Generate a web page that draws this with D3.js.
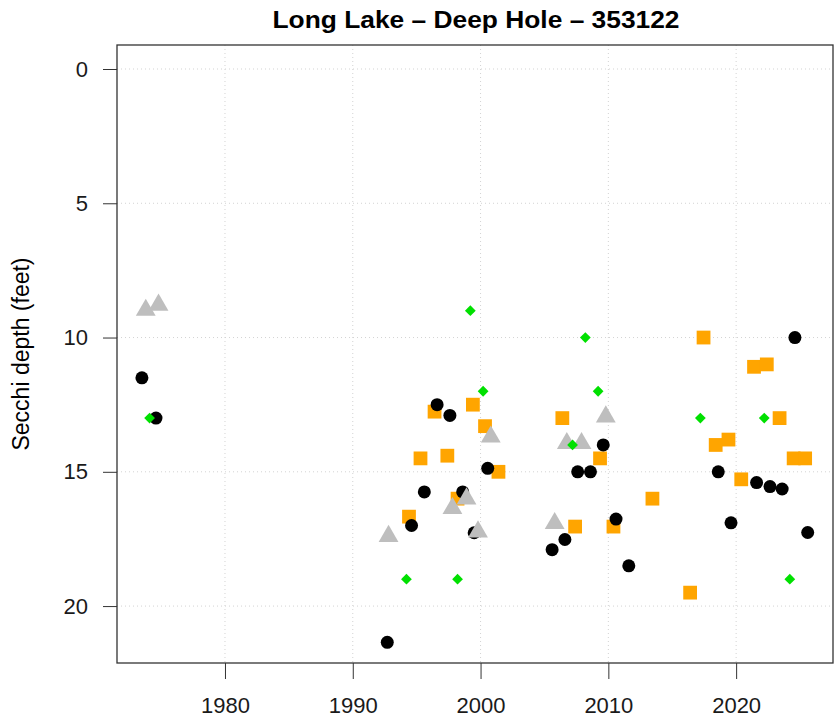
<!DOCTYPE html>
<html>
<head>
<meta charset="utf-8">
<script src="https://cdn.jsdelivr.net/npm/d3@7"></script>
<style>
  body { margin: 0; background: #fff; }
  text { font-family: "Liberation Sans", Arial, sans-serif; }
</style>
</head>
<body>
<div id="chart"></div>
<script>
// Secchi depth readings, [decimal year, depth in feet]
var blackPts = [
  [1973.5, 11.5], [1974.6, 13.0], [1992.7, 21.35], [1994.6, 17.0],
  [1995.6, 15.75], [1996.6, 12.5], [1997.6, 12.9], [1998.6, 15.75],
  [1999.5, 17.27], [2000.56, 14.87], [2005.6, 17.9], [2006.6, 17.52],
  [2007.6, 15.0], [2008.6, 15.0], [2009.6, 14.0], [2010.6, 16.76],
  [2011.6, 18.5], [2018.6, 15.0], [2019.6, 16.9], [2021.6, 15.4],
  [2022.65, 15.55], [2023.6, 15.64], [2024.6, 10.0], [2025.6, 17.26]
];
var orangePts = [
  [1994.4, 16.67], [1995.3, 14.5], [1996.4, 12.76], [1997.4, 14.4],
  [1998.2, 16.0], [1999.4, 12.5], [2000.35, 13.3], [2001.4, 15.0],
  [2006.4, 13.0], [2007.4, 17.04], [2009.35, 14.5], [2010.4, 17.04],
  [2013.45, 16.0], [2016.4, 19.5], [2017.45, 10.0], [2018.4, 14.0],
  [2019.4, 13.8], [2020.4, 15.28], [2021.4, 11.09], [2022.4, 11.0],
  [2023.4, 13.0], [2024.5, 14.5], [2025.4, 14.5]
];
var greyPts = [
  [1973.8, 8.98], [1974.8, 8.79], [1992.8, 17.4], [1997.8, 16.36],
  [1998.9, 16.0], [1999.8, 17.23], [2000.8, 13.7], [2005.8, 16.92],
  [2006.75, 13.94], [2007.9, 13.94], [2009.8, 12.95]
];
var greenPts = [
  [1974.1, 13.0], [1994.2, 19.0], [1998.2, 19.0], [1999.2, 9.0],
  [2000.2, 12.0], [2007.2, 14.0], [2008.2, 10.0], [2009.2, 12.0],
  [2017.2, 13.0], [2022.2, 13.0], [2024.2, 19.0]
];
var xTicks = [1980, 1990, 2000, 2010, 2020];
var yTicks = [0, 5, 10, 15, 20];
var title = "Long Lake \u2013 Deep Hole \u2013 353122";
var yLabel = "Secchi depth (feet)";

var W = 837, H = 723;
var margin = {top: 45, right: 4, bottom: 60, left: 117};
var pw = W - margin.left - margin.right;
var ph = H - margin.top - margin.bottom;

var svg = d3.select('#chart').append('svg')
  .attr('width', W)
  .attr('height', H);

var x = d3.scaleLinear().domain([1971.55, 2027.58]).range([0, pw]);
var y = d3.scaleLinear().domain([-0.894, 22.12]).range([0, ph]);

var g = svg.append('g')
  .attr('transform', 'translate(' + margin.left + ',' + margin.top + ')');

// dotted grid
g.selectAll('.vgrid').data(xTicks).enter().append('line')
  .attr('x1', function(d) { return x(d); })
  .attr('x2', function(d) { return x(d); })
  .attr('y1', 0).attr('y2', ph)
  .style('stroke', '#d3d3d3').style('stroke-dasharray', '1,3');
g.selectAll('.hgrid').data(yTicks).enter().append('line')
  .attr('y1', function(d) { return y(d); })
  .attr('y2', function(d) { return y(d); })
  .attr('x1', 0).attr('x2', pw)
  .style('stroke', '#d3d3d3').style('stroke-dasharray', '1,3');

// axes
var xAxis = d3.axisBottom(x).tickValues(xTicks).tickFormat(d3.format('d'))
  .tickSizeInner(16).tickSizeOuter(0).tickPadding(18);
var yAxis = d3.axisLeft(y).tickValues(yTicks)
  .tickSizeInner(14).tickSizeOuter(0).tickPadding(15);

var gx = g.append('g').attr('transform', 'translate(0,' + ph + ')').call(xAxis);
var gy = g.append('g').call(yAxis);
[gx, gy].forEach(function(a) {
  a.select('.domain').remove();
  a.selectAll('line').style('stroke', '#333');
  a.selectAll('text').style('font-size', '22px').style('fill', '#1a1a1a');
});

g.append('rect')
  .attr('width', pw).attr('height', ph)
  .style('fill', 'none').style('stroke', '#333').style('stroke-width', 1.3);

// points
var sym = function(type, size) { return d3.symbol().type(type).size(size); };

g.selectAll('.orange').data(orangePts).enter().append('path')
  .attr('d', sym(d3.symbolSquare, 190))
  .attr('transform', function(d) { return 'translate(' + x(d[0]) + ',' + y(d[1]) + ')'; })
  .style('fill', '#FFA500');

g.selectAll('.black').data(blackPts).enter().append('circle')
  .attr('cx', function(d) { return x(d[0]); })
  .attr('cy', function(d) { return y(d[1]); })
  .attr('r', 6.5)
  .style('fill', '#000');

g.selectAll('.grey').data(greyPts).enter().append('path')
  .attr('d', sym(d3.symbolTriangle, 170))
  .attr('transform', function(d) { return 'translate(' + x(d[0]) + ',' + y(d[1]) + ')'; })
  .style('fill', '#BEBEBE');

g.selectAll('.green').data(greenPts).enter().append('path')
  .attr('d', sym(d3.symbolSquare, 58))
  .attr('transform', function(d) { return 'translate(' + x(d[0]) + ',' + y(d[1]) + ') rotate(45)'; })
  .style('fill', '#00E000');

// labels
svg.append('text')
  .attr('x', 476).attr('y', 28)
  .attr('text-anchor', 'middle')
  .attr('textLength', 407).attr('lengthAdjust', 'spacingAndGlyphs')
  .style('font-size', '24px').style('font-weight', 'bold')
  .text(title);

svg.append('text')
  .attr('transform', 'translate(29,354) rotate(-90)')
  .attr('text-anchor', 'middle')
  .style('font-size', '23px')
  .text(yLabel);
</script>
</body>
</html>
